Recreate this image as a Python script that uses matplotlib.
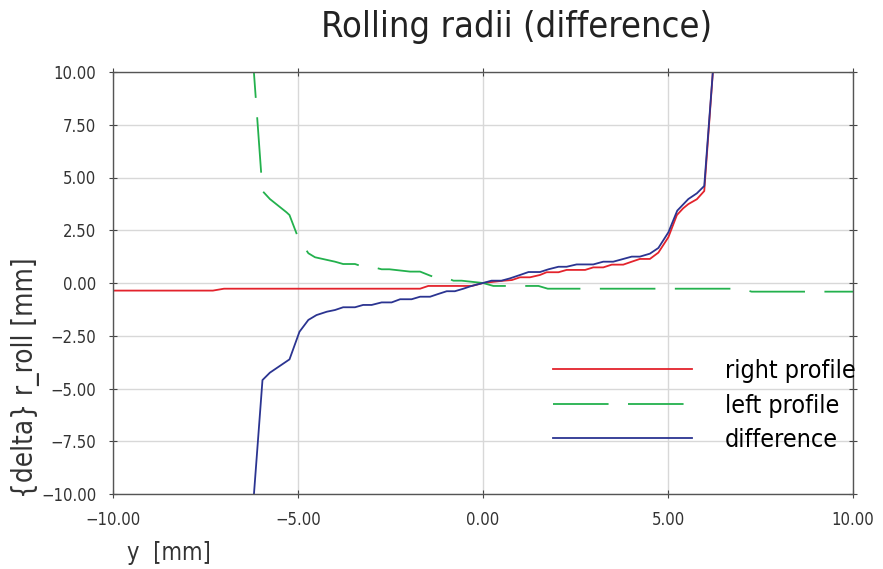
import matplotlib
matplotlib.use("Agg")
import matplotlib.pyplot as plt

# right profile
right_y = [-10, -7.3, -7.0, -1.7, -1.48, -0.3, 0.0, 0.25, 0.5, 0.78, 1.0, 1.27,
           1.54, 1.72, 2.04, 2.26, 2.76, 2.98, 3.25, 3.48, 3.79, 4.02, 4.24, 4.51,
           4.74, 5.01, 5.24, 5.41, 5.55, 5.78, 5.98, 6.25]
right_r = [-0.36, -0.36, -0.27, -0.27, -0.14, -0.14, 0.0, 0.05, 0.1, 0.14, 0.27, 0.27,
           0.38, 0.51, 0.51, 0.62, 0.62, 0.74, 0.74, 0.87, 0.87, 1.01, 1.14, 1.14,
           1.44, 2.17, 3.22, 3.54, 3.74, 3.97, 4.36, 10.9]

# left profile
left_y = [-6.25, -5.96, -5.76, -5.31, -5.23, -4.99, -4.72, -4.54, -4.0, -3.78, -3.46,
          -3.24, -3.01, -2.74, -2.53, -1.97, -1.70, -1.43, -1.25, -0.98, -0.80, -0.58,
          0.0, 0.28, 1.5, 1.75, 6.99, 7.26, 10.0]
left_r = [11.4, 4.36, 3.98, 3.35, 3.22, 2.12, 1.41, 1.22, 1.01, 0.90, 0.90,
          0.77, 0.77, 0.65, 0.65, 0.54, 0.54, 0.35, 0.24, 0.24, 0.11, 0.11,
          0.0, -0.14, -0.14, -0.27, -0.27, -0.41, -0.41]

# difference
diff_y = [-6.25, -5.96, -5.76, -5.23, -4.96, -4.72, -4.5, -4.22, -4.0, -3.78, -3.46,
          -3.24, -3.01, -2.74, -2.47, -2.24, -1.93, -1.70, -1.43, -1.21, -0.98, -0.76,
          -0.53, -0.31, 0.0, 0.23, 0.50, 0.73, 1.0, 1.23, 1.54, 1.77, 2.04, 2.26, 2.53,
          2.98, 3.25, 3.52, 3.75, 4.02, 4.24, 4.51, 4.74, 5.01, 5.25, 5.55, 5.78, 5.98, 6.25]
diff_r = [-11.4, -4.6, -4.25, -3.62, -2.31, -1.75, -1.52, -1.36, -1.28, -1.15, -1.15,
          -1.04, -1.04, -0.92, -0.92, -0.77, -0.77, -0.65, -0.65, -0.52, -0.39, -0.39,
          -0.27, -0.14, 0.0, 0.11, 0.11, 0.22, 0.38, 0.52, 0.52, 0.65, 0.77, 0.77, 0.88,
          0.88, 1.01, 1.01, 1.12, 1.25, 1.25, 1.39, 1.66, 2.40, 3.43, 3.98, 4.25, 4.60, 10.9]

x_ticks = [-10, -5, 0, 5, 10]
y_ticks = [-10, -7.5, -5, -2.5, 0, 2.5, 5, 7.5, 10]

plt.rcParams['font.family'] = ['DejaVu Sans']
plt.rcParams['font.stretch'] = 'condensed'
plt.rcParams['font.weight'] = 'light'
plt.rcParams['lines.scale_dashes'] = False

W, H = 883, 569
fig = plt.figure(figsize=(W / 100, H / 100), dpi=100)
ax = fig.add_axes([113 / W, 1 - 494 / H, 740 / W, 422 / H])

ax.plot(right_y, right_r, color='#e3232c', lw=1.3, label='right profile')
ax.plot(left_y, left_r, color='#23b14d', lw=1.3, dashes=(40, 14), label='left profile')
ax.plot(diff_y, diff_r, color='#2b3491', lw=1.3, label='difference')

ax.set_xlim(-10, 10)
ax.set_ylim(-10, 10)
ax.set_xticks(x_ticks)
ax.set_yticks(y_ticks)
ax.set_xticklabels([f"{v:.2f}".replace('-', '\u2212') for v in x_ticks])
ax.set_yticklabels([f"{v:.2f}".replace('-', '\u2212') for v in y_ticks])
ax.grid(True, color='#d8d8d8', lw=1.0)
ax.set_axisbelow(True)
ax.tick_params(direction='inout', length=6, width=0.8, color='#444444',
               top=True, right=True, labelsize=12, labelcolor='#333333', pad=9)
for s in ax.spines.values():
    s.set_color('#555555')
    s.set_linewidth(1.0)

ax.legend(loc='upper left', bbox_to_anchor=(553 / W, 1 - 359 / H),
          bbox_transform=fig.transFigure, frameon=False, fontsize=18,
          handlelength=100 / 18, handletextpad=24 / 18, labelspacing=0.42,
          borderpad=0, borderaxespad=0)

fig.text(517 / W, 1 - 27 / H, 'Rolling radii (difference)', ha='center', va='center',
         fontsize=26, color='#222222')
fig.text(127 / W, 1 - 553 / H, 'y  [mm]', ha='left', va='center', fontsize=17, color='#333333')
fig.text(26 / W, 1 - 378 / H, '{delta} r_roll [mm]', ha='center', va='center',
         rotation=90, fontsize=20, color='#333333')

fig.savefig('out.png', dpi=100)
